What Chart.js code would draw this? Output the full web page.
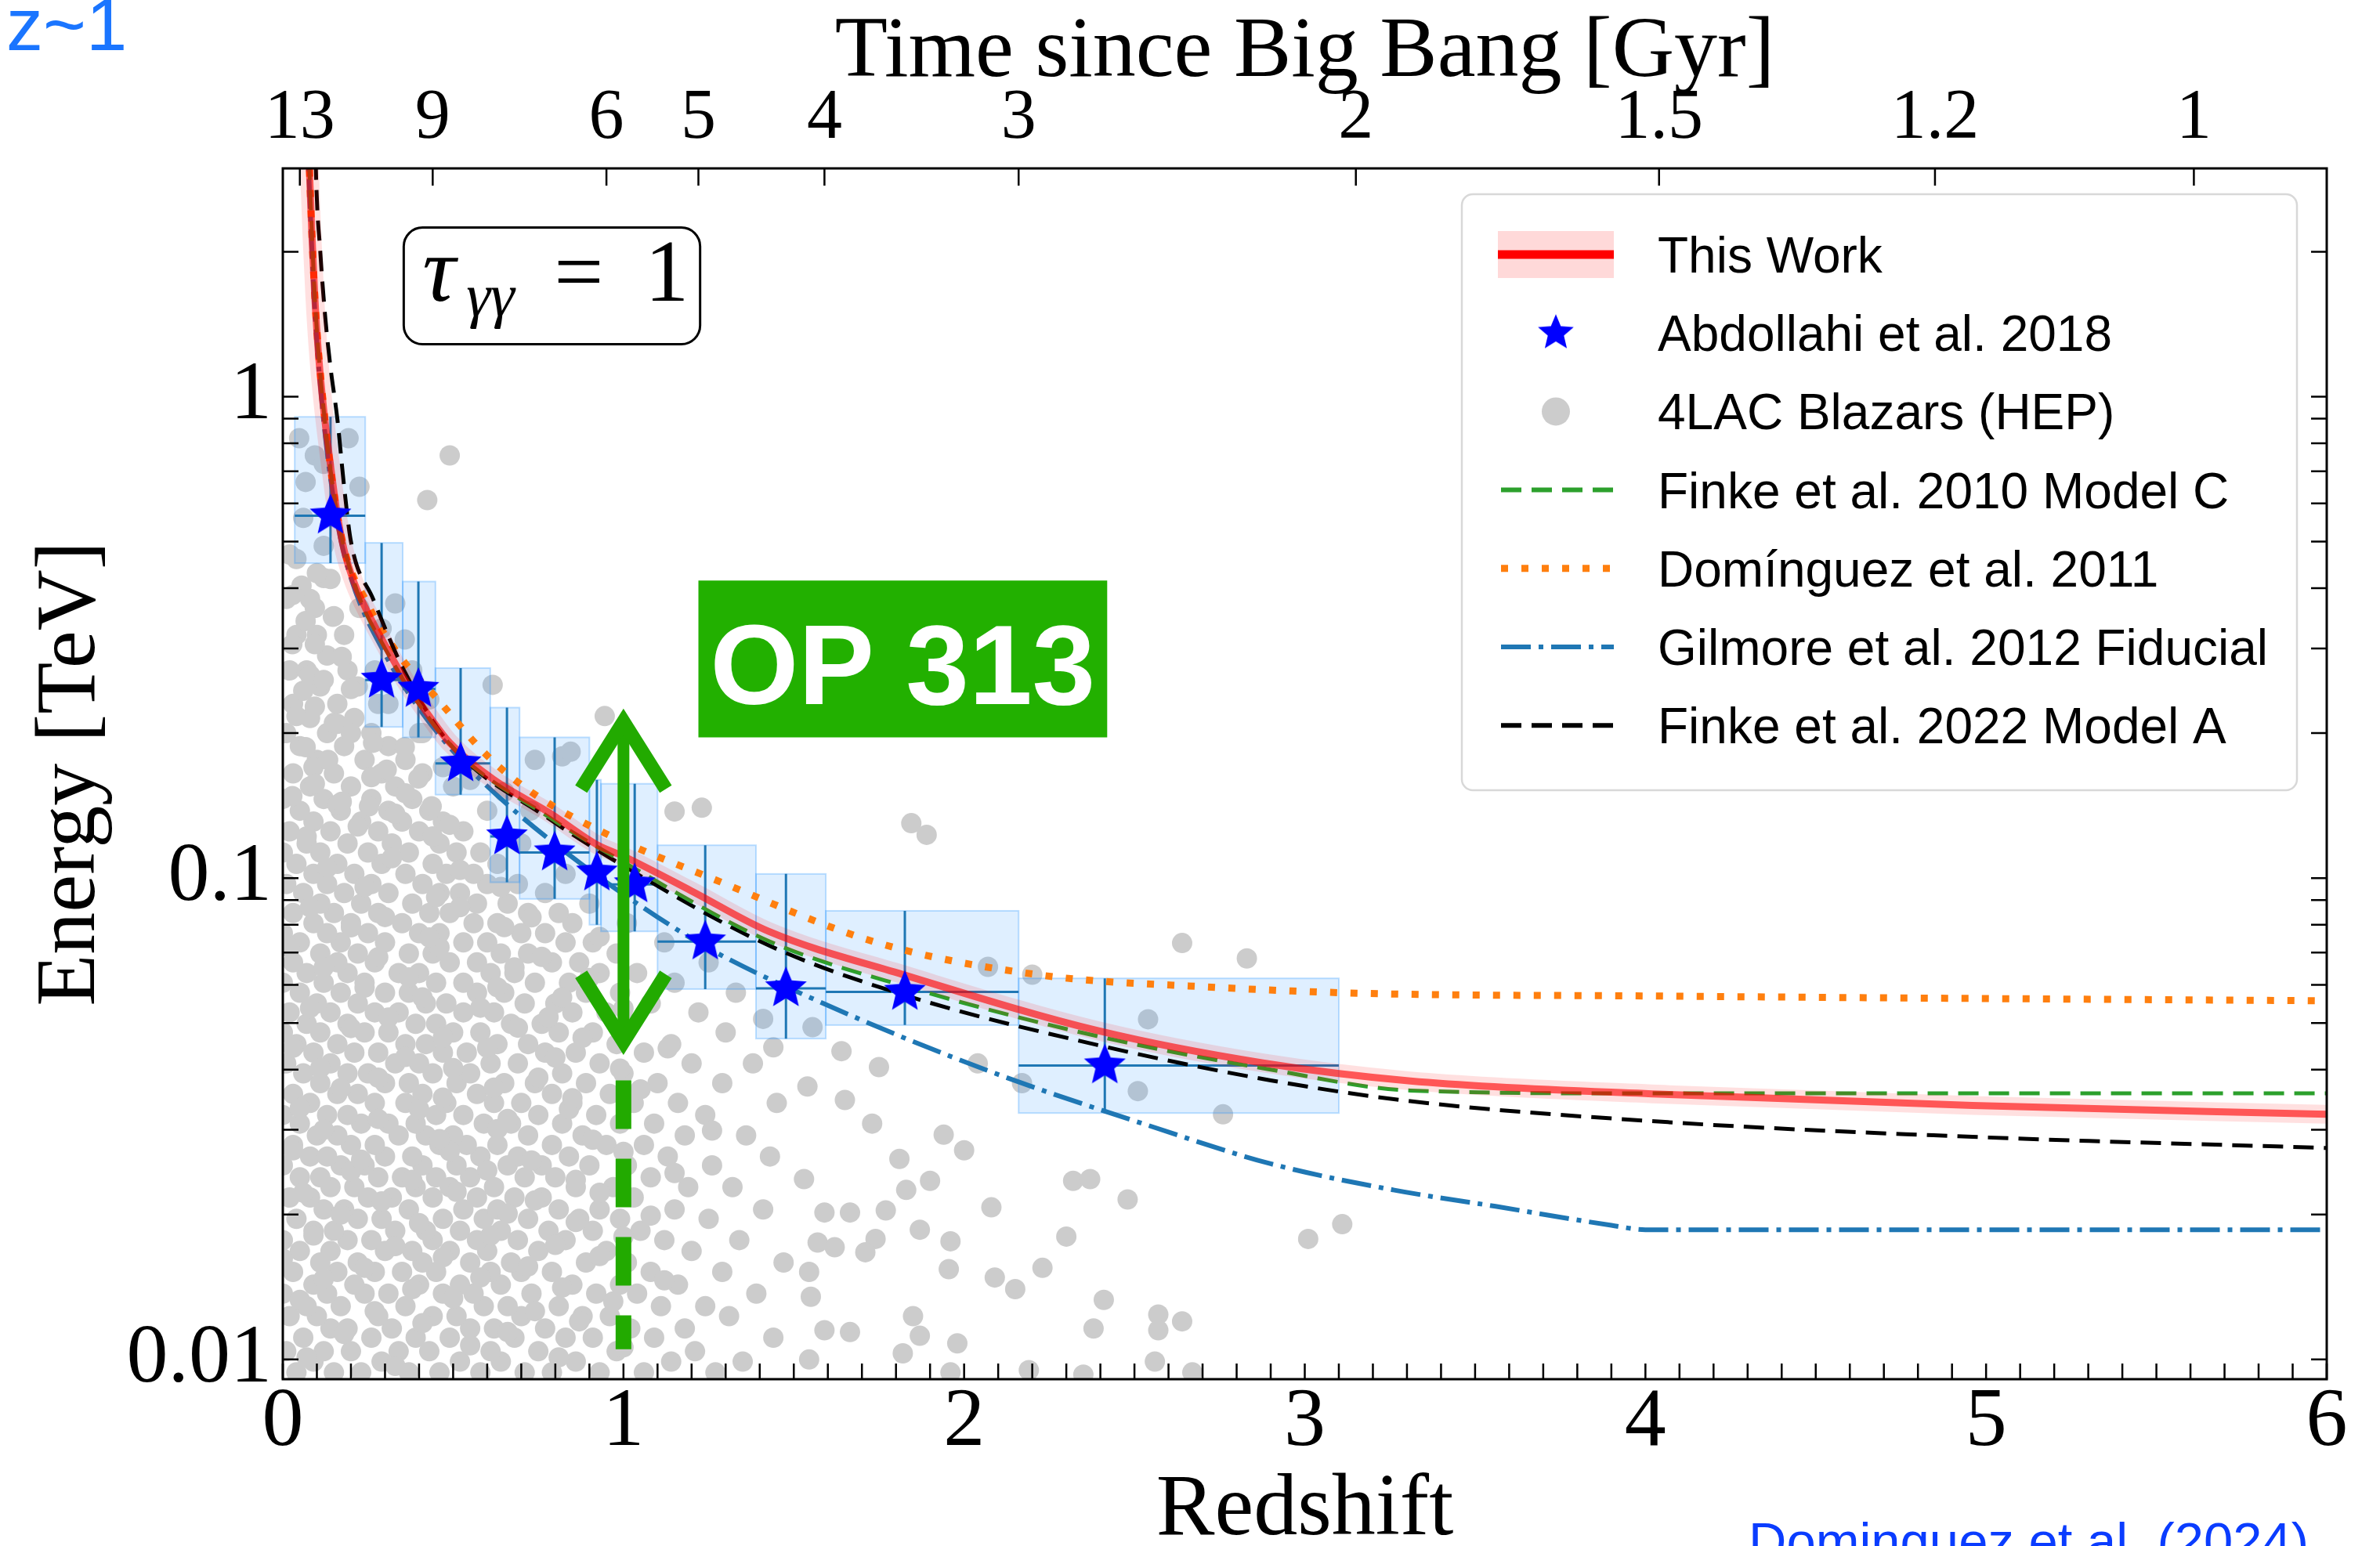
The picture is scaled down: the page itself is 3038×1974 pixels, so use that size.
<!DOCTYPE html>
<html>
<head>
<meta charset="utf-8">
<title>tau = 1 horizon</title>
<script src="https://cdn.jsdelivr.net/npm/chart.js@4.4.1/dist/chart.umd.min.js"></script>
<style>
  html, body { margin: 0; padding: 0; background: #fff; }
  #wrap { width: 3038px; height: 1974px; }
</style>
</head>
<body>
<div id="wrap"><canvas id="chart" width="3038" height="1974"></canvas></div>
<script>
// axes
var zTicks = [0, 1, 2, 3, 4, 5, 6];
var yTicks = [0.01, 0.1, 1];
var yTickLabels = ['0.01', '0.1', '1'];
var timeLabels = ['13', '9', '6', '5', '4', '3', '2', '1.5', '1.2', '1'];
var timeZ = [0.05, 0.44, 0.95, 1.22, 1.59, 2.16, 3.15, 4.04, 4.85, 5.61];

// This Work
var thisWorkZ = [0.074, 0.078, 0.085, 0.094, 0.105, 0.12, 0.14, 0.158, 0.18, 0.21, 0.253, 0.30, 0.358, 0.42, 0.49, 0.62, 0.78, 0.925, 1.0, 1.2, 1.426, 1.828, 2.392, 2.877, 3.31, 4.07, 4.96, 6.0];
var thisWorkE = [3.6, 2.98, 2.2, 1.61, 1.22, 0.94, 0.72, 0.58, 0.48, 0.41, 0.352, 0.305, 0.258, 0.222, 0.191, 0.160, 0.137, 0.117, 0.111, 0.094, 0.0775, 0.0628, 0.0482, 0.0413, 0.0379, 0.0355, 0.0337, 0.0323];
// Finke et al. 2010 Model C
var finke10Z = [0.074, 0.078, 0.094, 0.12, 0.158, 0.21, 0.30, 0.49, 0.78, 1.0, 1.426, 1.83, 2.4, 2.9, 3.31, 4.0, 5.0, 6.0];
var finke10E = [3.6, 2.98, 1.61, 0.94, 0.58, 0.41, 0.30, 0.19, 0.134, 0.108, 0.074, 0.0595, 0.0468, 0.0400, 0.0362, 0.0357, 0.0357, 0.0357];
// Dominguez et al. 2011
var domZ = [0.074, 0.078, 0.094, 0.12, 0.17, 0.25, 0.35, 0.448, 0.602, 0.741, 0.945, 1.263, 1.748, 2.23, 2.716, 3.18, 4.0, 5.0, 6.0];
var domE = [3.6, 2.98, 1.61, 0.95, 0.52, 0.37, 0.285, 0.238, 0.179, 0.149, 0.124, 0.0996, 0.0733, 0.0628, 0.0594, 0.0576, 0.0569, 0.0562, 0.0556];
// Gilmore et al. 2012 Fiducial
var gilZ = [0.072, 0.076, 0.092, 0.118, 0.16, 0.2, 0.3, 0.4, 0.52, 0.66, 0.876, 1.1, 1.263, 1.587, 2.07, 2.555, 2.9, 3.26, 3.56, 3.9, 4.0, 6.0];
var gilE = [3.6, 2.98, 1.6, 0.92, 0.55, 0.42, 0.292, 0.225, 0.177, 0.142, 0.107, 0.083, 0.0706, 0.0549, 0.0398, 0.0304, 0.0255, 0.0225, 0.0208, 0.0190, 0.0186, 0.0186];
// Finke et al. 2022 Model A
var finke22Z = [0.095, 0.097, 0.11, 0.125, 0.14, 0.16, 0.18, 0.2, 0.265, 0.358, 0.49, 0.78, 1.0, 1.426, 1.83, 2.392, 2.9, 3.31, 4.07, 4.96, 6.0];
var finke22E = [3.6, 2.98, 2.0, 1.45, 1.15, 0.9, 0.65, 0.5, 0.38, 0.268, 0.19, 0.133, 0.106, 0.0725, 0.057, 0.045, 0.0380, 0.0344, 0.0311, 0.0290, 0.0275];

// Abdollahi et al. 2018 (value, box edges)
var abdZ = [0.14, 0.29, 0.398, 0.522, 0.658, 0.798, 0.922, 1.033, 1.24, 1.477, 1.826, 2.413];
var abdE = [0.566, 0.258, 0.247, 0.173, 0.122, 0.113, 0.1026, 0.097, 0.0738, 0.059, 0.058, 0.0408];
var abdZlo = [0.035, 0.242, 0.352, 0.448, 0.609, 0.695, 0.90, 0.934, 1.10, 1.389, 1.594, 2.16];
var abdZhi = [0.242, 0.352, 0.448, 0.609, 0.695, 0.90, 0.934, 1.10, 1.389, 1.594, 2.16, 3.10];
var abdElo = [0.451, 0.206, 0.196, 0.149, 0.098, 0.0905, 0.08, 0.0775, 0.0588, 0.0464, 0.0495, 0.0325];
var abdEhi = [0.908, 0.497, 0.413, 0.273, 0.226, 0.196, 0.16, 0.157, 0.117, 0.102, 0.0855, 0.0619];

// 4LAC blazars, dense cloud read row by row: [E, [z, ...]]
var blazarRows = [
  [0.0094, [0.04,0.15,0.23,0.37,0.46,0.58,0.71,0.79,0.93,1.06,1.27]],
  [0.0099, [0.09,0.29,0.52,0.64,0.86,1.14,1.35]],
  [0.0104, [0.01,0.12,0.20,0.34,0.43,0.61,0.75,0.98,1.21]],
  [0.0111, [0.06,0.26,0.39,0.49,0.68,0.83,0.91,1.09,1.44]],
  [0.0116, [0.14,0.19,0.32,0.55,0.62,0.77,1.02,1.18]],
  [0.0123, [0.02,0.10,0.28,0.44,0.51,0.70,0.88,0.96,1.31]],
  [0.0129, [0.07,0.17,0.36,0.59,0.66,0.81,1.11,1.24]],
  [0.0137, [0.00,0.13,0.24,0.31,0.47,0.56,0.73,0.92,1.04,1.39]],
  [0.0143, [0.09,0.21,0.40,0.52,0.64,0.85,0.99,1.16]],
  [0.0152, [0.03,0.16,0.27,0.35,0.45,0.61,0.70,0.79,1.08,1.29]],
  [0.0159, [0.11,0.22,0.41,0.55,0.67,0.89,1.01,1.47]],
  [0.0168, [0.05,0.14,0.30,0.38,0.49,0.60,0.75,0.95,1.20]],
  [0.0177, [0.00,0.19,0.26,0.44,0.57,0.69,0.83,1.12,1.34]],
  [0.0185, [0.09,0.15,0.33,0.42,0.52,0.64,0.78,0.91,1.05]],
  [0.0196, [0.04,0.22,0.29,0.47,0.59,0.72,0.87,0.99,1.25]],
  [0.0205, [0.12,0.18,0.37,0.53,0.63,0.81,0.93,1.15,1.41]],
  [0.0217, [0.02,0.08,0.25,0.32,0.44,0.57,0.68,0.76,1.03]],
  [0.0228, [0.14,0.21,0.39,0.49,0.62,0.86,0.97,1.19,1.32]],
  [0.0239, [0.05,0.11,0.28,0.35,0.45,0.55,0.71,0.80,1.08]],
  [0.0253, [0.00,0.17,0.24,0.41,0.51,0.66,0.76,0.90,1.01,1.26]],
  [0.0264, [0.08,0.13,0.30,0.38,0.58,0.69,0.84,1.13,1.43]],
  [0.0279, [0.03,0.20,0.27,0.46,0.54,0.63,0.79,0.95,1.06]],
  [0.0292, [0.10,0.16,0.34,0.42,0.50,0.72,0.88,1.18,1.36]],
  [0.0309, [0.05,0.23,0.31,0.39,0.59,0.67,0.82,0.99,1.09]],
  [0.0322, [0.00,0.13,0.19,0.45,0.53,0.75,0.92,1.24]],
  [0.0341, [0.08,0.27,0.36,0.48,0.62,0.70,0.85,1.03,1.16,1.45]],
  [0.0356, [0.03,0.16,0.22,0.41,0.57,0.79,0.96]],
  [0.0375, [0.11,0.30,0.37,0.51,0.65,0.74,0.89,1.10,1.29]],
  [0.0393, [0.06,0.19,0.25,0.44,0.55,0.82,1.00]],
  [0.0412, [0.01,0.14,0.33,0.40,0.61,0.69,0.93,1.20,1.38]],
  [0.0434, [0.09,0.21,0.28,0.47,0.54,0.77,0.86,1.06]],
  [0.0452, [0.04,0.16,0.36,0.42,0.63,0.72,0.98,1.14]],
  [0.0478, [0.00,0.11,0.24,0.31,0.50,0.58,0.81,0.91,1.30]],
  [0.0498, [0.07,0.19,0.39,0.45,0.67,0.76,1.02]],
  [0.0526, [0.02,0.14,0.27,0.34,0.53,0.62,0.85,0.95,1.22]],
  [0.0549, [0.10,0.22,0.42,0.48,0.71,0.80,1.08]],
  [0.0578, [0.05,0.17,0.30,0.37,0.57,0.65,0.89,0.99,1.33]],
  [0.0606, [0.00,0.12,0.24,0.45,0.53,0.74,0.84,1.15]],
  [0.0635, [0.07,0.19,0.34,0.40,0.61,0.68,0.93,1.04]],
  [0.0668, [0.03,0.16,0.27,0.49,0.57,0.79,0.87,1.25]],
  [0.0697, [0.11,0.22,0.37,0.44,0.64,0.72,0.98]],
  [0.0735, [0.05,0.17,0.30,0.53,0.60,0.83,0.91,1.12]],
  [0.0768, [0.00,0.13,0.25,0.40,0.46,0.70,0.77]],
  [0.0806, [0.09,0.20,0.35,0.56,0.63,0.85,1.01]],
  [0.0846, [0.03,0.15,0.28,0.43,0.49,0.72,0.81]],
  [0.0885, [0.11,0.23,0.38,0.57,0.66,0.90]],
  [0.0931, [0.06,0.18,0.31,0.46,0.52,0.77]],
  [0.0972, [0.01,0.13,0.26,0.41,0.60,0.69]],
  [0.102, [0.09,0.21,0.36,0.48,0.56,0.83]],
  [0.107, [0.04,0.16,0.29,0.44,0.63]],
  [0.113, [0.00,0.11,0.25,0.37,0.51,0.58]],
  [0.118, [0.07,0.19,0.32,0.46,0.70]],
  [0.125, [0.02,0.14,0.28,0.40,0.53]],
  [0.131, [0.09,0.23,0.35,0.47]],
  [0.138, [0.05,0.17,0.31,0.43,0.60]],
  [0.146, [0.00,0.12,0.26,0.38]],
  [0.155, [0.08,0.20,0.33,0.50]],
  [0.165, [0.03,0.15,0.29,0.41]],
  [0.176, [0.10,0.24,0.36]],
  [0.188, [0.05,0.18,0.31]],
  [0.200, [0.01,0.13,0.26,0.40]],
  [0.215, [0.08,0.21]],
  [0.230, [0.03,0.16,0.28]],
  [0.250, [0.11,0.22]],
  [0.270, [0.02,0.07,0.19]],
  [0.290, [0.13]],
  [0.320, [0.04,0.10,0.18]],
  [0.350, [0.15]],
  [0.380, [0.01,0.08]],
  [0.420, [0.12]],
  [0.460, [0.04]]
];
// 4LAC blazars, extra points filling the gaps of the dense cloud [z, E]
var blazarCore = [
  [0.07,0.0101],[0.33,0.0097],[0.55,0.0107],[0.81,0.0101],[1.00,0.0106],
  [0.18,0.0113],[0.41,0.0119],[0.66,0.0114],[0.87,0.0120],
  [0.05,0.0133],[0.27,0.0126],[0.50,0.0134],[0.74,0.0126],[0.97,0.0132],
  [0.12,0.0147],[0.38,0.0140],[0.58,0.0148],[0.82,0.0141],[1.12,0.0146],
  [0.00,0.0162],[0.24,0.0155],[0.47,0.0163],[0.72,0.0156],[0.93,0.0164],
  [0.09,0.0181],[0.33,0.0172],[0.61,0.0181],[0.80,0.0173],[1.00,0.0180],
  [0.17,0.0200],[0.40,0.0192],[0.66,0.0201],[0.86,0.0193],[1.08,0.0199],
  [0.06,0.0222],[0.29,0.0213],[0.51,0.0223],[0.74,0.0214],[0.93,0.0222],
  [0.20,0.0246],[0.38,0.0236],[0.60,0.0247],[0.86,0.0236],[1.15,0.0244],
  [0.03,0.0272],[0.23,0.0260],[0.49,0.0271],[0.73,0.0259],[1.00,0.0270],
  [0.12,0.0300],[0.46,0.0287],[0.63,0.0301],[0.91,0.0286],[1.26,0.0299],
  [0.05,0.0333],[0.28,0.0316],[0.40,0.0331],[0.66,0.0316],[0.84,0.0331],
  [0.17,0.0366],[0.47,0.0350],[0.62,0.0367],[0.85,0.0349],[1.05,0.0364],
  [0.11,0.0403],[0.28,0.0385],[0.50,0.0403],[0.75,0.0385],[0.99,0.0402],
  [0.03,0.0444],[0.36,0.0425],[0.60,0.0444],[0.80,0.0424],[1.13,0.0443],
  [0.20,0.0488],[0.47,0.0466],[0.69,0.0489],[0.88,0.0466],
  [0.08,0.0537],[0.31,0.0513],[0.58,0.0538],[0.78,0.0514],[1.00,0.0536],
  [0.24,0.0592],[0.41,0.0565],[0.63,0.0593],[0.82,0.0565],
  [0.12,0.0652],[0.37,0.0622],[0.68,0.0652],[0.90,0.0620],
  [0.02,0.0718],[0.28,0.0685],[0.46,0.0718],[0.76,0.0686],
  [0.20,0.0790],[0.43,0.0753],[0.65,0.0791],[0.93,0.0755],
  [0.08,0.0870],[0.30,0.0830],[0.52,0.0870],[0.73,0.0829],
  [0.24,0.0958],[0.45,0.0913],[0.64,0.0958],
  [0.13,0.105],[0.32,0.110],[0.52,0.104],
  [0.07,0.122],[0.22,0.128],[0.44,0.122],
  [0.16,0.142],[0.36,0.150],
  [0.09,0.170],[0.26,0.162],
  [0.15,0.210],[0.06,0.245]
];
// 4LAC blazars, isolated points [z, E]
var blazarScattered = [
  [0.048,0.82],[0.094,0.755],[0.067,0.665],[0.12,0.725],[0.193,0.82],[0.225,0.65],[0.12,0.49],[0.055,0.405],
  [0.028,0.387],[0.094,0.364],[0.14,0.418],[0.147,0.349],[0.067,0.342],[0.094,0.306],[0.028,0.306],[0.08,0.264],
  [0.12,0.258],[0.173,0.288],[0.2,0.247],[0.225,0.364],[0.33,0.372],[0.358,0.313],[0.49,0.755],[0.424,0.61],
  [0.616,0.252],[0.945,0.217],[0.82,0.179],[0.74,0.176],[0.04,0.217],[0.094,0.227],[0.16,0.209],[0.067,0.187],
  [0.133,0.176],[0.2,0.2],[0.265,0.191],[0.305,0.168],[0.358,0.187],[0.398,0.161],[0.094,0.157],[0.028,0.148],
  [0.173,0.144],[0.253,0.141],[0.33,0.136],[0.437,0.141],[0.49,0.129],[0.65,0.151],[0.727,0.138],
  [0.06,0.56],[0.02,0.47],[0.1,0.43],[0.29,0.33],[0.38,0.27],[0.43,0.235],[0.27,0.27],[0.31,0.23],[0.41,0.2],
  [0.47,0.17],[0.55,0.16],[0.845,0.183],[1.15,0.1375],[1.23,0.14],[1.845,0.13],[1.89,0.123],[2.64,0.0733],
  [2.83,0.0681],[2.07,0.0654],[2.2,0.063],[2.54,0.0509],[2.51,0.0361],[2.76,0.0323],[2.17,0.0375],[2.04,0.0412],
  [1.94,0.0293],[2.0,0.0272],[1.81,0.0261],[1.73,0.0309],[1.65,0.0346],[1.54,0.0369],[1.75,0.0405],[1.64,0.0437],
  [1.44,0.0445],[1.41,0.051],[1.555,0.049],
  [1.53,0.0237],[1.90,0.0235],[1.59,0.0202],[1.665,0.0202],[1.77,0.0204],[1.83,0.0225],[2.08,0.0207],[2.32,0.0235],
  [2.37,0.0237],[2.48,0.0215],[1.87,0.0186],[1.96,0.0176],[2.30,0.0180],[3.01,0.0178],[3.11,0.0191],[1.57,0.0175],
  [1.62,0.0171],[1.74,0.0178],[1.71,0.0167],[1.545,0.0152],[1.955,0.0154],[2.09,0.0148],[2.15,0.0140],[2.23,0.0155],
  [1.55,0.0135],[1.85,0.0123],[2.41,0.0133],[1.59,0.0115],[1.665,0.0114],[1.87,0.0112],[1.98,0.0108],[2.38,0.0116],
  [2.57,0.0124],[2.64,0.0120],[2.57,0.0115],[1.82,0.0103],[1.545,0.0100],[2.56,0.0099],[2.19,0.0095],[1.96,0.0094],
  [2.67,0.0094],[2.35,0.0093]
];

// annotations (data coordinates)
var arrowZ = 1.0;
var arrowE = [0.216, 0.0447];
var dashE = [0.038, 0.0105];
var op313Box = [1.22, 2.42, 0.196, 0.415];
var tauBox = [0.355, 1.225, 1.285, 2.245];

var legendLabels = ['This Work', 'Abdollahi et al. 2018', '4LAC Blazars (HEP)', 'Finke et al. 2010 Model C',
  'Dom\u00ednguez et al. 2011', 'Gilmore et al. 2012 Fiducial', 'Finke et al. 2022 Model A'];

function pts(xs, ys) {
  return xs.map(function (x, i) { return {x: x, y: ys[i]}; });
}

var blazars = [];
blazarRows.forEach(function (r) {
  r[1].forEach(function (z) { blazars.push({x: z, y: r[0]}); });
});
blazarCore.concat(blazarScattered).forEach(function (p) { blazars.push({x: p[0], y: p[1]}); });

var vBars = [], hBars = [];
abdZ.forEach(function (z, i) {
  vBars.push({x: z, y: abdElo[i]}, {x: z, y: abdEhi[i]}, {x: z, y: null});
  hBars.push({x: abdZlo[i], y: abdE[i]}, {x: abdZhi[i], y: abdE[i]}, {x: abdZhi[i], y: null});
});

function makeStar(r) {
  var c = document.createElement('canvas');
  c.width = c.height = 2 * r + 2;
  var g = c.getContext('2d');
  g.beginPath();
  for (var i = 0; i < 10; i++) {
    var a = -Math.PI / 2 + i * Math.PI / 5;
    var rr = i % 2 ? r * 0.45 : r;
    g.lineTo(r + 1 + rr * Math.cos(a), r + 1 + rr * Math.sin(a));
  }
  g.closePath();
  g.fillStyle = '#0000ff';
  g.fill();
  return c;
}
var starImg = makeStar(28);
var starSmall = makeStar(24);

var serif = '"Liberation Serif", "Times New Roman", serif';
var sans = '"Liberation Sans", Arial, sans-serif';

// shaded 1-sigma boxes, drawn right after the blazar cloud
var boxPlugin = {
  id: 'boxes',
  afterDatasetDraw: function (chart, args) {
    if (args.index !== 0) return;
    var ctx = chart.ctx, x = chart.scales.x, y = chart.scales.y;
    ctx.save();
    abdZ.forEach(function (z, i) {
      var x0 = x.getPixelForValue(abdZlo[i]), x1 = x.getPixelForValue(abdZhi[i]);
      var y0 = y.getPixelForValue(abdEhi[i]), y1 = y.getPixelForValue(abdElo[i]);
      ctx.fillStyle = 'rgba(30,144,255,0.14)';
      ctx.fillRect(x0, y0, x1 - x0, y1 - y0);
      ctx.strokeStyle = 'rgba(30,144,255,0.28)';
      ctx.lineWidth = 2;
      ctx.strokeRect(x0, y0, x1 - x0, y1 - y0);
    });
    ctx.restore();
  }
};

// frame and inward ticks
var framePlugin = {
  id: 'frame',
  afterDatasetsDraw: function (chart) {
    var ctx = chart.ctx, a = chart.chartArea, s = chart.scales;
    ctx.save();
    ctx.strokeStyle = '#000';
    ctx.lineWidth = 2.5;
    ctx.beginPath();
    for (var d = -3; d <= 0; d++) {
      for (var m = 1; m <= 9; m++) {
        var v = m * Math.pow(10, d);
        if (v < s.y.min || v > s.y.max) continue;
        var py = s.y.getPixelForValue(v);
        ctx.moveTo(a.left, py); ctx.lineTo(a.left + 20, py);
        ctx.moveTo(a.right, py); ctx.lineTo(a.right - 20, py);
      }
    }
    for (var i = 0; i <= 60; i++) {
      var px = s.x.getPixelForValue(i / 10);
      ctx.moveTo(px, a.bottom); ctx.lineTo(px, a.bottom - 20);
    }
    timeZ.forEach(function (z) {
      var tx = s.x2.getPixelForValue(z);
      ctx.moveTo(tx, a.top); ctx.lineTo(tx, a.top + 22);
    });
    ctx.stroke();
    ctx.lineWidth = 3;
    ctx.strokeRect(a.left, a.top, a.right - a.left, a.bottom - a.top);
    ctx.restore();
  }
};

// legend, labels and the OP 313 marker
var overlayPlugin = {
  id: 'overlay',
  afterDraw: function (chart) {
    var ctx = chart.ctx, a = chart.chartArea, x = chart.scales.x, y = chart.scales.y;
    ctx.save();

    // tau box
    var bx0 = x.getPixelForValue(tauBox[0]), bx1 = x.getPixelForValue(tauBox[1]);
    var by0 = y.getPixelForValue(tauBox[3]), by1 = y.getPixelForValue(tauBox[2]);
    ctx.beginPath();
    ctx.roundRect(bx0, by0, bx1 - bx0, by1 - by0, 24);
    ctx.fillStyle = '#fff';
    ctx.fill();
    ctx.strokeStyle = '#000';
    ctx.lineWidth = 3;
    ctx.stroke();
    ctx.fillStyle = '#000';
    ctx.textBaseline = 'alphabetic';
    ctx.textAlign = 'left';
    ctx.font = 'italic 118px ' + serif;
    ctx.fillText('\u03c4', bx0 + 24, by0 + 93);
    ctx.font = 'italic 78px ' + serif;
    ctx.fillText('\u03b3\u03b3', bx0 + 80, by0 + 112);
    ctx.font = '112px ' + serif;
    ctx.fillText('=', bx0 + 192, by0 + 93);
    ctx.fillText('1', bx0 + 308, by0 + 93);

    // legend
    var lx = a.right - 1104, ly = a.top + 33;
    ctx.beginPath();
    ctx.roundRect(lx, ly, 1066, 761, 14);
    ctx.fillStyle = 'rgba(255,255,255,0.85)';
    ctx.fill();
    ctx.strokeStyle = '#d8d8d8';
    ctx.lineWidth = 2.5;
    ctx.stroke();
    var hx0 = lx + 46, hx1 = lx + 194, hc = (hx0 + hx1) / 2;
    legendLabels.forEach(function (lab, i) {
      var cy = ly + 77 + i * 100.2;
      ctx.save();
      if (i === 0) {
        ctx.fillStyle = 'rgba(255,0,0,0.15)';
        ctx.fillRect(hx0, cy - 30, hx1 - hx0, 60);
        ctx.strokeStyle = '#ff0000'; ctx.lineWidth = 11;
        ctx.beginPath(); ctx.moveTo(hx0, cy); ctx.lineTo(hx1, cy); ctx.stroke();
      } else if (i === 1) {
        ctx.drawImage(starSmall, hc - starSmall.width / 2, cy - starSmall.height / 2);
      } else if (i === 2) {
        ctx.fillStyle = '#cccccc';
        ctx.beginPath(); ctx.arc(hc, cy, 18, 0, Math.PI * 2); ctx.fill();
      } else {
        var st = [
          null, null, null,
          ['#2ca02c', 6, [26, 13]],
          ['#ff7f0e', 9, [9, 17]],
          ['#1f77b4', 6, [38, 10, 6, 10]],
          ['#000000', 6, [26, 13]]
        ][i];
        ctx.strokeStyle = st[0]; ctx.lineWidth = st[1]; ctx.setLineDash(st[2]);
        ctx.beginPath(); ctx.moveTo(hx0 + 4, cy); ctx.lineTo(hx1, cy); ctx.stroke();
      }
      ctx.restore();
      ctx.fillStyle = '#000';
      ctx.font = '64px ' + sans;
      ctx.fillText(lab, lx + 250, cy + 23);
    });

    // OP 313 arrow and dashed line
    var ax = x.getPixelForValue(arrowZ);
    var aTop = y.getPixelForValue(arrowE[0]), aBot = y.getPixelForValue(arrowE[1]);
    ctx.strokeStyle = '#22aa00';
    ctx.lineCap = 'butt';
    ctx.lineJoin = 'miter';
    ctx.lineWidth = 15;
    ctx.beginPath(); ctx.moveTo(ax, aTop + 6); ctx.lineTo(ax, aBot - 6); ctx.stroke();
    ctx.lineWidth = 18;
    ctx.beginPath();
    ctx.moveTo(ax - 54, aTop + 92); ctx.lineTo(ax, aTop + 6); ctx.lineTo(ax + 54, aTop + 92);
    ctx.moveTo(ax - 54, aBot - 92); ctx.lineTo(ax, aBot - 6); ctx.lineTo(ax + 54, aBot - 92);
    ctx.stroke();
    ctx.lineWidth = 20;
    ctx.setLineDash([62, 38]);
    ctx.beginPath();
    ctx.moveTo(ax, y.getPixelForValue(dashE[0]));
    ctx.lineTo(ax, y.getPixelForValue(dashE[1]));
    ctx.stroke();
    ctx.setLineDash([]);

    // OP 313 label
    var ox0 = x.getPixelForValue(op313Box[0]), ox1 = x.getPixelForValue(op313Box[1]);
    var oy0 = y.getPixelForValue(op313Box[3]), oy1 = y.getPixelForValue(op313Box[2]);
    ctx.fillStyle = '#22b000';
    ctx.fillRect(ox0, oy0, ox1 - ox0, oy1 - oy0);
    ctx.fillStyle = '#fff';
    ctx.font = 'bold 145px ' + sans;
    ctx.textAlign = 'center';
    ctx.fillText('OP 313', (ox0 + ox1) / 2, (oy0 + oy1) / 2 + 58);

    // corner notes
    ctx.textAlign = 'left';
    ctx.fillStyle = '#1a75ff';
    ctx.font = '94px ' + sans;
    ctx.fillText('z~1', 8, 64);
    ctx.fillStyle = '#0a3cff';
    ctx.font = '67px ' + sans;
    ctx.fillText('Dominguez et al. (2024)', 2232, 1991);
    ctx.restore();
  }
};

var lineBase = {type: 'line', pointRadius: 0, cubicInterpolationMode: 'monotone', clip: 0, fill: false};

new Chart(document.getElementById('chart').getContext('2d'), {
  type: 'scatter',
  data: {
    datasets: [
      {label: '4LAC Blazars (HEP)', data: blazars, pointRadius: 13, pointBackgroundColor: '#cccccc',
        pointBorderWidth: 0, order: 9, clip: 0},
      {label: 'vbars', type: 'line', data: vBars, borderColor: '#1f77b4', borderWidth: 3, pointRadius: 0,
        spanGaps: false, order: 8, clip: 0},
      {label: 'hbars', type: 'line', data: hBars, borderColor: '#1f77b4', borderWidth: 3, pointRadius: 0,
        spanGaps: false, order: 8, clip: 0},
      Object.assign({label: legendLabels[5], data: pts(gilZ, gilE), borderColor: '#1f77b4', borderWidth: 6,
        borderDash: [38, 10, 6, 10], order: 6}, lineBase),
      Object.assign({label: legendLabels[4], data: pts(domZ, domE), borderColor: '#ff7f0e', borderWidth: 9,
        borderDash: [9, 17], order: 6}, lineBase),
      Object.assign({label: legendLabels[6], data: pts(finke22Z, finke22E), borderColor: '#000000', borderWidth: 5,
        borderDash: [26, 13], order: 5}, lineBase),
      Object.assign({label: legendLabels[3], data: pts(finke10Z, finke10E), borderColor: '#2ca02c', borderWidth: 5,
        borderDash: [26, 13], order: 4}, lineBase),
      Object.assign({label: 'band', data: pts(thisWorkZ, thisWorkE), borderColor: 'rgba(255,0,0,0.12)',
        borderWidth: 24, order: 3}, lineBase),
      Object.assign({label: legendLabels[0], data: pts(thisWorkZ, thisWorkE), borderColor: 'rgba(255,0,0,0.62)',
        borderWidth: 9, order: 2}, lineBase),
      {label: legendLabels[1], data: pts(abdZ, abdE), pointStyle: starImg, pointRadius: 28, order: 1, clip: 0}
    ]
  },
  options: {
    responsive: false,
    devicePixelRatio: 1,
    animation: false,
    events: [],
    layout: {padding: {left: 0, right: 68, top: 0, bottom: 0}},
    plugins: {legend: {display: false}, tooltip: {enabled: false}},
    scales: {
      x: {
        type: 'linear', position: 'bottom', min: 0, max: 6,
        afterBuildTicks: function (s) { s.ticks = zTicks.map(function (v) { return {value: v}; }); },
        afterFit: function (s) { s.height = 213; },
        grid: {display: false, drawTicks: false},
        border: {display: false},
        ticks: {autoSkip: false, maxRotation: 0, padding: -7, color: '#000',
          font: {family: serif, size: 106}, callback: function (v) { return String(v); }},
        title: {display: true, text: 'Redshift', color: '#000', padding: 0,
          font: {family: serif, size: 112, lineHeight: 0.8}}
      },
      x2: {
        type: 'linear', position: 'top', min: 0, max: 6,
        afterBuildTicks: function (s) { s.ticks = timeZ.map(function (v) { return {value: v}; }); },
        afterFit: function (s) { s.height = 215; },
        grid: {display: false, drawTicks: false},
        border: {display: false},
        ticks: {autoSkip: false, maxRotation: 0, padding: 9, color: '#000',
          font: {family: serif, size: 90}, callback: function (v, i) { return timeLabels[i]; }},
        title: {display: true, text: 'Time since Big Bang [Gyr]', color: '#000', padding: {top: 13, bottom: 0},
          font: {family: serif, size: 110, lineHeight: 1}}
      },
      y: {
        type: 'logarithmic', position: 'left', min: 0.0091, max: 2.98,
        afterBuildTicks: function (s) { s.ticks = yTicks.map(function (v) { return {value: v}; }); },
        afterFit: function (s) { s.width = 361; },
        grid: {display: false, drawTicks: false},
        border: {display: false},
        ticks: {autoSkip: false, padding: 14, color: '#000',
          font: {family: serif, size: 106}, callback: function (v, i) { return yTickLabels[i]; }},
        title: {display: true, text: 'Energy [TeV]', color: '#000', padding: {top: 38, bottom: 0},
          font: {family: serif, size: 108, lineHeight: 1}}
      }
    }
  },
  plugins: [boxPlugin, framePlugin, overlayPlugin]
});
</script>
</body>
</html>
